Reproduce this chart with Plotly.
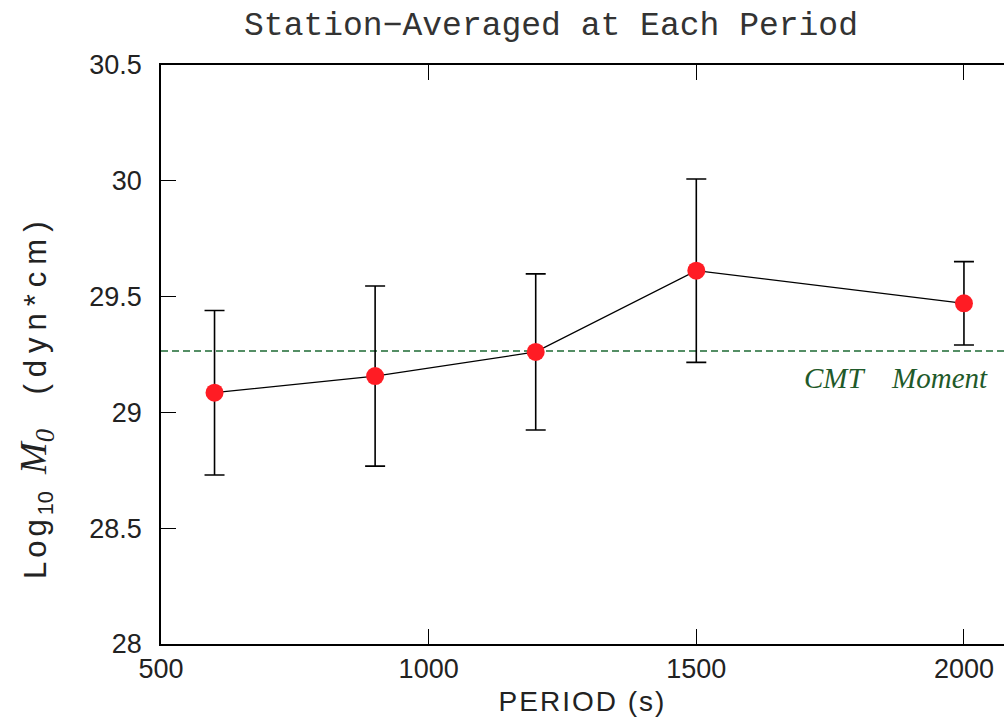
import plotly.graph_objects as go

period = [600, 900, 1200, 1500, 2000]
log_m0 = [29.085, 29.157, 29.261, 29.612, 29.471]
err = [0.355, 0.389, 0.337, 0.396, 0.180]
cmt_moment = 29.265

x_ticks = [500, 1000, 1500, 2000]
x_ticklabels = ["500", "1000", "1500", "2000"]
y_ticks = [28, 28.5, 29, 29.5, 30, 30.5]
y_ticklabels = ["28", "28.5", "29", "29.5", "30", "30.5"]

fig = go.Figure()

# CMT reference line
fig.add_trace(go.Scatter(
    x=[500, 2100], y=[cmt_moment, cmt_moment], mode="lines",
    line=dict(color="#1d6a33", width=1.5, dash="7px,4px"),
    hoverinfo="skip", showlegend=False))

fig.add_trace(go.Scatter(
    x=period, y=log_m0, mode="lines+markers",
    line=dict(color="black", width=1.3),
    marker=dict(color="#ff1c24", size=18, line=dict(width=0)),
    error_y=dict(type="data", array=err, visible=True, color="black",
                 thickness=1.6, width=10),
    showlegend=False))

fig.add_annotation(x=2000, y=cmt_moment, xref="x", yref="y",
                   text="<i>CMT    Moment</i>", showarrow=False,
                   xanchor="right", yanchor="top", xshift=26, yshift=-9,
                   font=dict(family="Liberation Serif", size=29, color="#1f5a2a"))

# y-axis title
fig.add_annotation(
    x=(36 - 161) / 843, y=1 - (397 - 65) / 579, xref="paper", yref="paper",
    xanchor="center", yanchor="middle", showarrow=False,
    text=("<span style='letter-spacing:4px'>Log</span><sub>10</sub>  "
          "<span style='font-family:Liberation Serif;font-size:38px'><i>M<sub>0</sub></i></span>"
          "    <span style='letter-spacing:7px'>(dyn*cm)</span>"),
    textangle=-90, font=dict(family="Liberation Sans", size=31, color="#222"))

fig.update_layout(
    width=1004, height=719,
    margin=dict(l=161, r=0, t=65, b=75),
    paper_bgcolor="white", plot_bgcolor="white",
    title=dict(text="Station\u2212Averaged at Each Period", x=551 / 1004, xanchor="center",
               y=1 - 23 / 719, yanchor="middle",
               font=dict(family="Liberation Mono", size=33, color="#333")),
    font=dict(family="Liberation Sans", color="#222"),
)

fig.update_xaxes(
    range=[500, 500 + 843 / 0.5353], tickvals=x_ticks, ticktext=x_ticklabels,
    ticks="inside", ticklen=15, tickwidth=1.3, tickcolor="black",
    showline=True, linecolor="black", linewidth=1.5, mirror="ticks",
    showgrid=False, zeroline=False, tickfont=dict(size=27),
    title=dict(text="<span style='letter-spacing:2px'>PERIOD (s)</span>",
               font=dict(size=28), standoff=8),
)
fig.update_yaxes(
    range=[28, 30.5], tickvals=y_ticks, ticktext=y_ticklabels,
    ticks="inside", ticklen=15, tickwidth=1.3, tickcolor="black",
    showline=True, linecolor="black", linewidth=1.5,
    showgrid=False, zeroline=False, tickfont=dict(size=27),
    ticklabelstandoff=12,
)

fig.write_html("out.html")
